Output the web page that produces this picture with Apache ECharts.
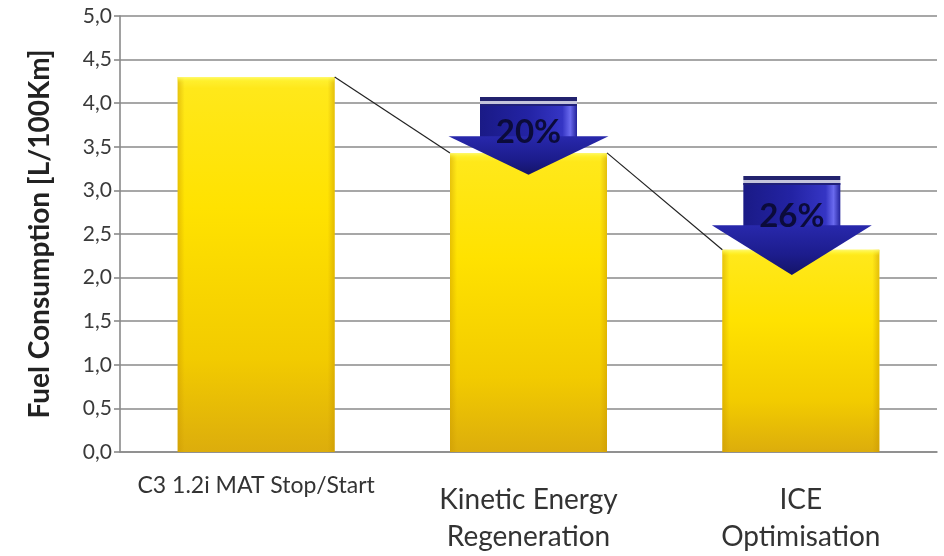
<!DOCTYPE html>
<html>
<head>
<meta charset="utf-8">
<script src="https://cdn.jsdelivr.net/npm/echarts@6/dist/echarts.min.js"></script>
<style>
  html, body { margin: 0; padding: 0; background: #fff; }
  #chart { width: 944px; height: 556px; }
</style>
</head>
<body>
<div id="chart"></div>
<script>
// Fuel consumption per configuration step
const categories = ['C3 1.2i MAT Stop/Start', 'Kinetic Energy\nRegeneration', 'ICE\nOptimisation'];
const consumption = [4.3, 3.43, 2.32];
const yTicks = { min: 0, max: 5, interval: 0.5 };

// Reduction arrows: category index, top of arrow, base of head, tip (all in L/100Km), label
const arrowCategory = [1, 2];
const arrowTop = [4.07, 3.165];
const arrowShoulder = [3.62, 2.6];
const arrowTip = [3.18, 2.03];
const arrowLabels = ['20%', '26%'];

const FONT = 'Lato, "Open Sans", sans-serif';
const BAR_WIDTH = 157;

const chart = echarts.init(document.getElementById('chart'), null, { renderer: 'canvas' });

const barGradient = new echarts.graphic.LinearGradient(0, 0, 0, 1, [
  { offset: 0, color: '#FFF23A' },
  { offset: 0.03, color: '#FFE81A' },
  { offset: 0.35, color: '#FFE200' },
  { offset: 0.75, color: '#F2CB00' },
  { offset: 1, color: '#DCAD0C' }
]);

// Step line joining the top corners of neighbouring bars
function renderConnector(params, api) {
  const i = api.value(0);
  if (i >= consumption.length - 1) return null;
  const a = api.coord([i, consumption[i]]);
  const b = api.coord([i + 1, consumption[i + 1]]);
  return {
    type: 'line',
    shape: { x1: a[0] + BAR_WIDTH / 2, y1: a[1], x2: b[0] - BAR_WIDTH / 2, y2: b[1] },
    style: { stroke: '#222', lineWidth: 1.2 }
  };
}

// Thin bevel shading on each bar's edges
function renderBevel(params, api) {
  const i = api.value(0);
  const top = api.coord([i, consumption[i]]);
  const base = api.coord([i, 0]);
  const x0 = top[0] - BAR_WIDTH / 2;
  const h = base[1] - top[1];
  return {
    type: 'group',
    children: [
      { type: 'rect', shape: { x: x0, y: top[1], width: 7, height: h },
        style: { fill: new echarts.graphic.LinearGradient(0, 0, 1, 0, [
          { offset: 0, color: 'rgba(200,150,0,0.45)' }, { offset: 1, color: 'rgba(200,150,0,0)' }]) } },
      { type: 'rect', shape: { x: x0 + BAR_WIDTH - 7, y: top[1], width: 7, height: h },
        style: { fill: new echarts.graphic.LinearGradient(0, 0, 1, 0, [
          { offset: 0, color: 'rgba(200,150,0,0)' }, { offset: 1, color: 'rgba(200,150,0,0.5)' }]) } },
      { type: 'rect', shape: { x: x0, y: top[1], width: BAR_WIDTH, height: 6 },
        style: { fill: new echarts.graphic.LinearGradient(0, 0, 0, 1, [
          { offset: 0, color: 'rgba(255,250,120,0.9)' }, { offset: 1, color: 'rgba(255,240,0,0)' }]) } }
    ]
  };
}

// Blue downward arrow with the percentage reduction written over it
function renderArrow(params, api) {
  const k = params.dataIndex;
  const cat = api.value(0);
  const top = api.coord([cat, arrowTop[k]]);
  const sh = api.coord([cat, arrowShoulder[k]]);
  const tip = api.coord([cat, arrowTip[k]]);
  const cx = top[0] + (k === 1 ? -9 : 0);
  const shaftW = 97;
  const headW = 160;
  const sx = cx - shaftW / 2;
  return {
    type: 'group',
    children: [
      // shaft
      { type: 'rect', shape: { x: sx, y: top[1] + 7, width: shaftW, height: sh[1] - top[1] - 6 },
        style: { fill: new echarts.graphic.LinearGradient(0, 0, 1, 0, [
          { offset: 0, color: '#1a1a86' },
          { offset: 0.5, color: '#2323a4' },
          { offset: 0.85, color: '#3535c4' },
          { offset: 0.93, color: '#6a6aee' },
          { offset: 1, color: '#22229a' }]) } },
      // head
      { type: 'polygon', shape: { points: [[cx - headW / 2, sh[1]], [cx + headW / 2, sh[1]], [cx, tip[1]]] },
        style: { fill: new echarts.graphic.LinearGradient(0, 0, 0, 1, [
          { offset: 0, color: '#2828ac' },
          { offset: 0.6, color: '#1c1c8c' },
          { offset: 1, color: '#141468' }]) } },
      // stripes at the top of the shaft
      { type: 'rect', shape: { x: sx, y: top[1], width: shaftW, height: 4 }, style: { fill: '#22226e' } },
      { type: 'rect', shape: { x: sx, y: top[1] + 4, width: shaftW, height: 3 }, style: { fill: '#c4c4dc' } },
      { type: 'rect', shape: { x: sx, y: top[1] + 7, width: shaftW, height: 2 }, style: { fill: '#20207a' } },
      // label
      { type: 'text', x: cx, y: (top[1] + sh[1]) / 2 + 16,
        style: { text: arrowLabels[k], fill: '#0b0b3a', font: 'bold 33px ' + FONT,
                 align: 'center', verticalAlign: 'middle' } }
    ]
  };
}

const option = {
  animation: false,
  backgroundColor: '#ffffff',
  grid: { left: 120, right: 7, top: 16, bottom: 104, containLabel: false },
  xAxis: {
    type: 'category',
    data: [
      { value: categories[0], textStyle: { fontSize: 23, padding: [7, 0, 0, 0] } },
      { value: categories[1], textStyle: { padding: [21, 0, 0, 0] } },
      { value: categories[2], textStyle: { padding: [21, 0, 0, 0] } }
    ],
    axisLine: { lineStyle: { color: '#8a8a8a', width: 1.6 } },
    axisTick: { show: false },
    axisLabel: { fontFamily: FONT, fontSize: 28, color: '#333', lineHeight: 37, interval: 0, margin: 8 }
  },
  yAxis: {
    type: 'value',
    min: yTicks.min, max: yTicks.max, interval: yTicks.interval,
    name: 'Fuel Consumption [L/100Km]',
    nameLocation: 'middle',
    nameRotate: 90,
    nameGap: 66,
    nameTextStyle: { fontFamily: FONT, fontSize: 28, fontWeight: 'bold', color: '#222' },
    axisLine: { show: true, lineStyle: { color: '#8a8a8a', width: 1.6 } },
    axisTick: { show: true, length: 6, lineStyle: { color: '#8a8a8a', width: 1.6 } },
    axisLabel: { fontFamily: FONT, fontSize: 21, color: '#3a3a3a', margin: 8,
                 formatter: v => v.toFixed(1).replace('.', ',') },
    splitLine: { lineStyle: { color: '#8a8a8a', width: 1.6 } }
  },
  series: [
    {
      type: 'bar',
      data: consumption,
      barWidth: BAR_WIDTH,
      itemStyle: { color: barGradient },
      z: 2
    },
    {
      type: 'custom',
      data: consumption.map((v, i) => [i, v]),
      renderItem: renderBevel,
      z: 3, silent: true
    },
    {
      type: 'custom',
      data: consumption.map((v, i) => [i, v]),
      renderItem: renderConnector,
      z: 4, silent: true
    },
    {
      type: 'custom',
      data: arrowCategory.map((c, k) => [c, arrowTop[k], arrowTip[k]]),
      renderItem: renderArrow,
      z: 5, silent: true
    }
  ]
};

chart.setOption(option);
</script>
</body>
</html>
